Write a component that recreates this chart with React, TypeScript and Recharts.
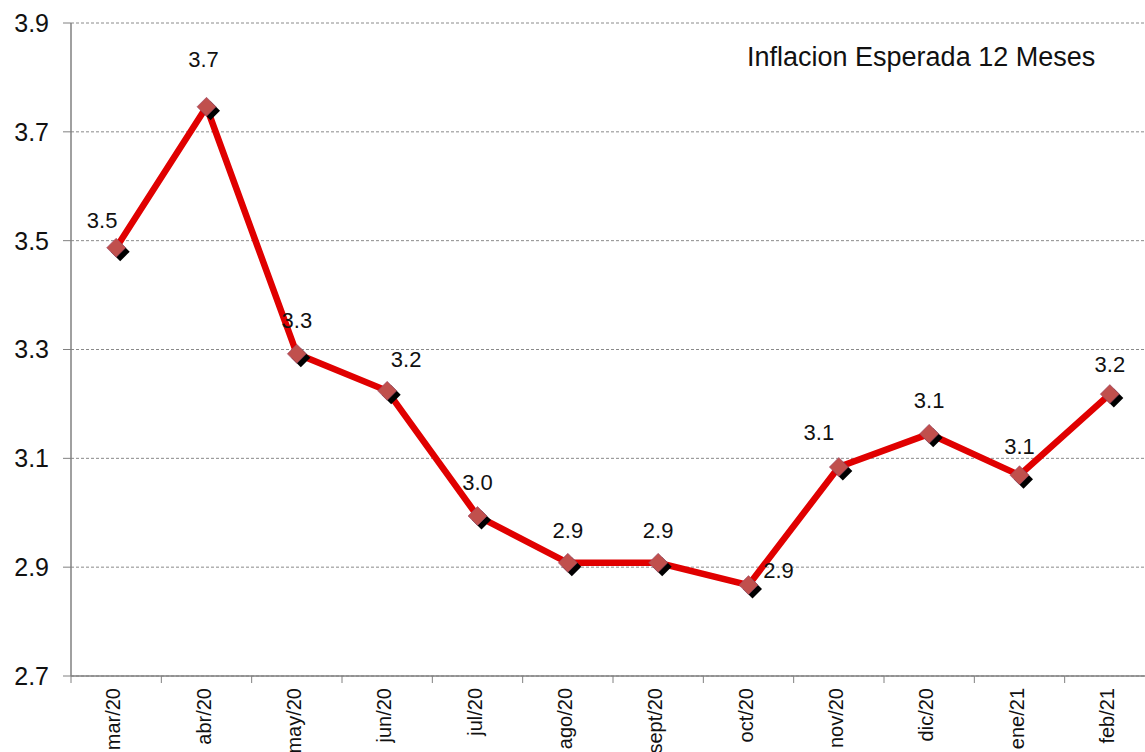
import React from 'react';
import { LineChart, Line, XAxis, YAxis, CartesianGrid, LabelList } from 'recharts';

const months = ['mar/20', 'abr/20', 'may/20', 'jun/20', 'jul/20', 'ago/20', 'sept/20', 'oct/20', 'nov/20', 'dic/20', 'ene/21', 'feb/21'];
const inflation = [3.487, 3.746, 3.292, 3.224, 2.994, 2.908, 2.908, 2.867, 3.084, 3.145, 3.069, 3.218];
const yTicks = [2.7, 2.9, 3.1, 3.3, 3.5, 3.7, 3.9];
const title = 'Inflacion Esperada 12 Meses';

// label placement (style, not data)
const labelShift: Record<string, [number, number]> = {
  'mar/20': [-14, -27],
  'abr/20': [-3, -47],
  'may/20': [0, -33],
  'jun/20': [19, -31],
  'jul/20': [0, -34],
  'ago/20': [0, -32],
  'sept/20': [0, -32],
  'oct/20': [30, -15],
  'nov/20': [-20, -35],
  'dic/20': [0, -33],
  'ene/21': [0, -29],
  'feb/21': [0, -30],
};

const data = months.map((m, i) => ({ month: m, value: inflation[i] }));

const FONT = '"Liberation Sans", Arial, sans-serif';
const CHART_W = 1160;
const CHART_H = 752;
const M = { top: 23, right: 5, left: 0, bottom: 0 };
const Y_W = 71;
const X_H = 76;
const PLOT_W = CHART_W - M.left - M.right - Y_W;

const XTick = (props: any) => {
  const { x, y, payload } = props;
  const half = PLOT_W / months.length / 2;
  return (
    <g>
      <line x1={x - half} x2={x - half} y1={y} y2={y + 7} stroke="#808080" strokeWidth={1} />
      <text
        x={0}
        y={0}
        transform={`translate(${x + 4}, ${y + 12}) rotate(-90)`}
        textAnchor="end"
        fontSize={20}
        fontFamily={FONT}
        fill="#111"
      >
        {payload.value}
      </text>
    </g>
  );
};

const Diamond = (props: any) => {
  const { cx, cy } = props;
  if (cx == null || cy == null) return null;
  const r = 9.5;
  const d = (x: number, y: number) => `M${x},${y - r} L${x + r},${y} L${x},${y + r} L${x - r},${y} Z`;
  return (
    <g>
      <path d={d(cx + 4, cy + 4)} fill="#000" />
      <path d={d(cx, cy)} fill="#C0504D" stroke="#9b4a6a" strokeWidth={0.6} />
    </g>
  );
};

const PointLabel = (props: any) => {
  const { x, y, value, index } = props;
  const m = months[index];
  const [dx, dy] = labelShift[m] || [0, -32];
  return (
    <text
      x={x + dx}
      y={y + dy}
      textAnchor="middle"
      dominantBaseline="central"
      fontSize={22}
      fontFamily={FONT}
      fill="#111"
    >
      {Number(value).toFixed(1)}
    </text>
  );
};

export default function App() {
  return (
    <div style={{ position: 'absolute', left: 0, top: 0, width: 1145, height: 752, overflow: 'hidden', background: '#fff' }}>
      <LineChart width={CHART_W} height={CHART_H} data={data} margin={M}>
        <CartesianGrid vertical={false} stroke="#8a8a8a" strokeDasharray="3 2" strokeWidth={1} />
        <XAxis
          dataKey="month"
          scale="band"
          height={X_H}
          interval={0}
          tickSize={0}
          tickMargin={0}
          tick={<XTick />}
          axisLine={{ stroke: '#808080', strokeWidth: 1.5 }}
          tickLine={false}
        />
        <YAxis
          width={Y_W}
          domain={[2.7, 3.9]}
          ticks={yTicks}
          interval={0}
          tickSize={8}
          tickMargin={14}
          axisLine={{ stroke: '#808080', strokeWidth: 1.5 }}
          tickLine={{ stroke: '#808080' }}
          tick={{ fontSize: 25, fontFamily: FONT, fill: '#111' }}
          tickFormatter={(v: number) => v.toFixed(1)}
        />
        <Line
          type="linear"
          dataKey="value"
          stroke="#E00000"
          strokeWidth={6.5}
          dot={<Diamond />}
          activeDot={false}
          isAnimationActive={false}
        >
          <LabelList dataKey="value" content={<PointLabel />} />
        </Line>
      </LineChart>
      <div
        style={{
          position: 'absolute',
          left: 747,
          top: 44,
          fontSize: 27,
          lineHeight: '27px',
          fontFamily: FONT,
          color: '#111',
          whiteSpace: 'nowrap',
        }}
      >
        {title}
      </div>
    </div>
  );
}
